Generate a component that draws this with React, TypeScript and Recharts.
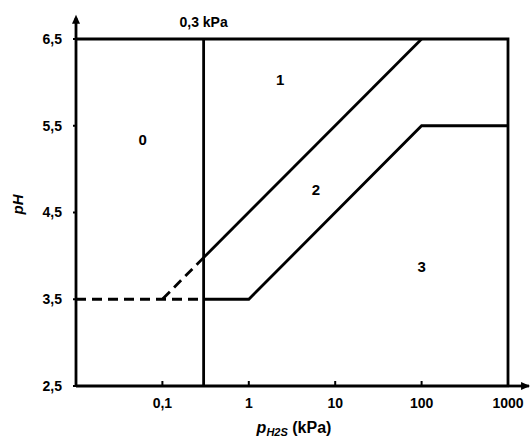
import { ComposedChart, Line, XAxis, YAxis, ReferenceLine, ReferenceDot, Scatter, Label } from "recharts";

// axis ticks
const xTicks = [0.1, 1, 10, 100, 1000];
const yTicks = [2.5, 3.5, 4.5, 5.5, 6.5];

// boundaries of the diagram (p in kPa, pH)
const frameTopRight = [
    { p: 0.01, pH: 6.5 },
    { p: 1000, pH: 6.5 },
    { p: 1000, pH: 2.5 },
];
const boundary1 = [
    { p: 0.3, pH: 3.98 },
    { p: 100, pH: 6.5 },
];
const boundary1Dashed = [
    { p: 0.3, pH: 3.98 },
    { p: 0.1, pH: 3.5 },
];
const lowDashed = [
    { p: 0.01, pH: 3.5 },
    { p: 0.3, pH: 3.5 },
];
const boundary2 = [
    { p: 0.3, pH: 3.5 },
    { p: 1, pH: 3.5 },
    { p: 100, pH: 5.5 },
    { p: 1000, pH: 5.5 },
];
const regions = [
    { p: 0.059, pH: 5.34, text: "0" },
    { p: 2.3, pH: 6.03, text: "1" },
    { p: 6.0, pH: 4.76, text: "2" },
    { p: 100, pH: 3.87, text: "3" },
];

const FONT = "'Liberation Sans', Arial, sans-serif";
const fmt = (v: number) => String(v).replace(".", ",");

const XTick = (props: any) => {
    const { x, y, payload } = props;
    const axisY = y - 8;
    return (
        <g>
            <line x1={x} x2={x} y1={axisY} y2={axisY - 5} stroke="#000" strokeWidth={2} />
            <text x={x} y={axisY + 17} dy="0.35em" textAnchor="middle" fontFamily={FONT} fontWeight="bold" fontSize={14} fill="#000">
                {fmt(payload.value)}
            </text>
        </g>
    );
};

const XTitle = (props: any) => {
    const { x, width } = props.viewBox;
    return (
        <text x={x + width / 2 + 2} y={433} textAnchor="middle" fontFamily={FONT} fontWeight="bold" fontSize={16} fill="#000">
            <tspan fontStyle="italic">p</tspan>
            <tspan fontStyle="italic" fontSize={11} dy={3}>H2S</tspan>
            <tspan dy={-3}> (kPa)</tspan>
        </text>
    );
};

const YTitle = (props: any) => {
    const { y, height } = props.viewBox;
    const cy = y + height / 2 - 8;
    return (
        <text x={18} y={cy} transform={`rotate(-90 18 ${cy})`} textAnchor="middle" dy="0.35em" fontFamily={FONT} fontWeight="bold" fontStyle="italic" fontSize={15} fill="#000">
            pH
        </text>
    );
};

const RegionText = (props: any) => (
    <text x={props.cx} y={props.cy} dy="0.35em" textAnchor="middle" fontFamily={FONT} fontWeight="bold" fontSize={15} fill="#000">
        {props.payload.text}
    </text>
);

const ArrowRight = (props: any) => (
    <path d={`M${props.cx},${props.cy} L${props.cx - 9},${props.cy - 4} L${props.cx - 9},${props.cy + 4} Z`} fill="#000" />
);
const ArrowUp = (props: any) => (
    <path d={`M${props.cx},${props.cy} L${props.cx - 4},${props.cy + 9} L${props.cx + 4},${props.cy + 9} Z`} fill="#000" />
);

const lineProps = {
    dataKey: "pH",
    stroke: "#000",
    strokeWidth: 2.8,
    dot: false,
    activeDot: false,
    isAnimationActive: false,
    type: "linear" as const,
};

export default function App() {
    return (
        <div style={{ position: "absolute", left: 0, top: 0, background: "#fff" }}>
            <ComposedChart width={531} height={438} margin={{ top: 39, right: 23, bottom: 0, left: 0 }}>
                <XAxis
                    type="number"
                    dataKey="p"
                    scale="log"
                    domain={[0.01, 1000]}
                    ticks={xTicks}
                    height={52}
                    tickSize={0}
                    tickMargin={8}
                    tick={<XTick />}
                    axisLine={{ stroke: "#000", strokeWidth: 2.8 }}
                    tickLine={false}
                >
                    <Label content={<XTitle />} />
                </XAxis>
                <YAxis
                    type="number"
                    dataKey="pH"
                    domain={[2.5, 6.5]}
                    ticks={yTicks}
                    width={76}
                    tickSize={3}
                    tickMargin={11}
                    tickFormatter={fmt}
                    tick={{ fill: "#000", fontFamily: FONT, fontWeight: "bold", fontSize: 14 }}
                    axisLine={{ stroke: "#000", strokeWidth: 2.8 }}
                    tickLine={{ stroke: "#000", strokeWidth: 2 }}
                >
                    <Label content={<YTitle />} />
                </YAxis>

                <ReferenceLine
                    x={0.3}
                    stroke="#000"
                    strokeWidth={2.8}
                    label={{ value: "0,3 kPa", position: "top", offset: 12, fill: "#000", fontFamily: FONT, fontWeight: "bold", fontSize: 14 }}
                />
                <ReferenceLine segment={[{ x: 1000, y: 2.5 }, { x: 1750, y: 2.5 }]} stroke="#000" strokeWidth={2.8} ifOverflow="visible" />
                <ReferenceLine segment={[{ x: 0.01, y: 6.5 }, { x: 0.01, y: 6.74 }]} stroke="#000" strokeWidth={2.8} ifOverflow="visible" />
                <ReferenceDot x={1800} y={2.5} ifOverflow="visible" shape={<ArrowRight />} />
                <ReferenceDot x={0.01} y={6.78} ifOverflow="visible" shape={<ArrowUp />} />

                <Line data={frameTopRight} {...lineProps} />
                <Line data={boundary1} {...lineProps} />
                <Line data={boundary1Dashed} {...lineProps} strokeDasharray="10 6" />
                <Line data={lowDashed} {...lineProps} strokeDasharray="10 6" />
                <Line data={boundary2} {...lineProps} />
                <Scatter data={regions} dataKey="pH" shape={<RegionText />} isAnimationActive={false} />
            </ComposedChart>
        </div>
    );
}
